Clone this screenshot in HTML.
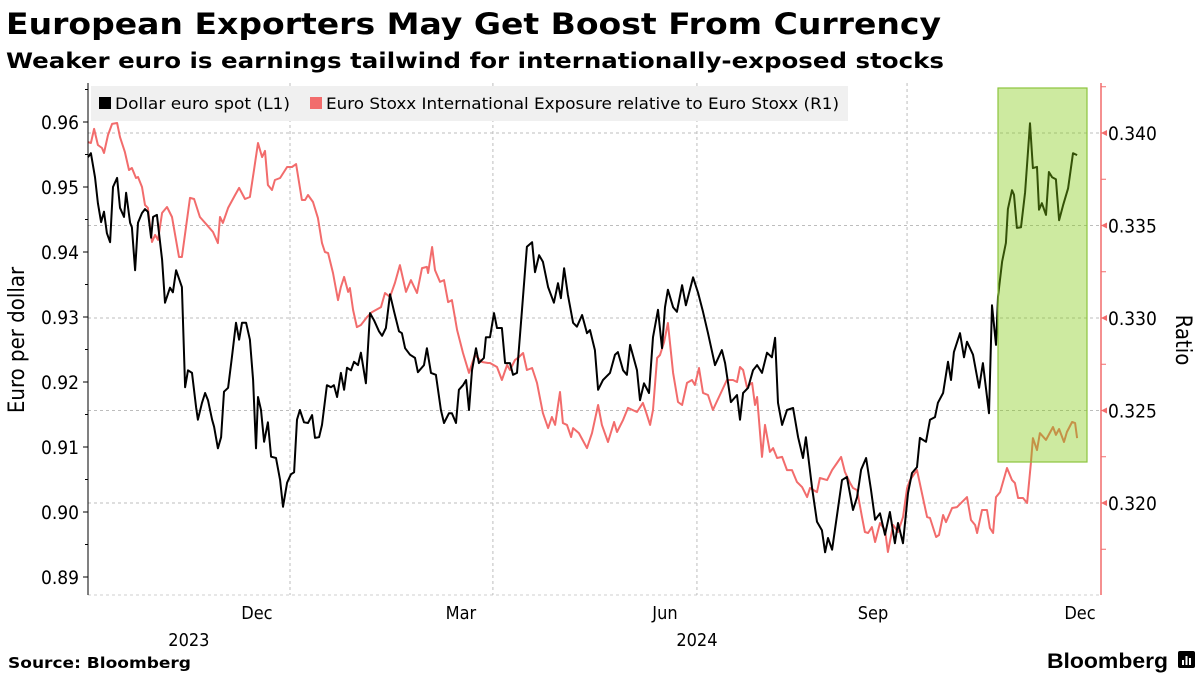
<!DOCTYPE html>
<html><head><meta charset="utf-8">
<style>
html,body{margin:0;padding:0;background:#fff;}
svg{display:block;font-family:"DejaVu Sans Condensed","DejaVu Sans","Liberation Sans",sans-serif;}
.ttl{font-family:"DejaVu Sans","Liberation Sans",sans-serif;}
</style></head>
<body>
<svg id="chart" width="1200" height="675" viewBox="0 0 1200 675">
  <text class="ttl" x="6" y="34" font-size="29" font-weight="bold" fill="#000" textLength="935" lengthAdjust="spacingAndGlyphs">European Exporters May Get Boost From Currency</text>
  <text class="ttl" x="6" y="68" font-size="21" font-weight="bold" fill="#000" textLength="938" lengthAdjust="spacingAndGlyphs">Weaker euro is earnings tailwind for internationally-exposed stocks</text>
  <g id="grid"></g>
  <g id="series"></g>
  <rect x="998" y="88" width="89" height="374" fill="rgba(130,202,17,0.4)" stroke="#8cc43e" stroke-width="1.2"/>
  <g>
    <rect x="91" y="86" width="757" height="35" fill="#f0f0f0"/>
    <rect x="99" y="97" width="12" height="12" fill="#000"/>
    <text x="115" y="109" font-size="16" fill="#000" textLength="175" lengthAdjust="spacingAndGlyphs">Dollar euro spot (L1)</text>
    <rect x="310" y="97" width="12" height="12" fill="#f26c6c"/>
    <text x="326" y="109" font-size="16" fill="#000" textLength="513" lengthAdjust="spacingAndGlyphs">Euro Stoxx International Exposure relative to Euro Stoxx (R1)</text>
  </g>
  <g id="axes"></g>
  <text transform="translate(24,340) rotate(-90)" text-anchor="middle" font-size="22" fill="#000">Euro per dollar</text>
  <text transform="translate(1176,340) rotate(90)" text-anchor="middle" font-size="22" fill="#000">Ratio</text>
  <text class="ttl" x="8" y="668" font-size="15" font-weight="bold" fill="#000" textLength="183" lengthAdjust="spacingAndGlyphs">Source: Bloomberg</text>
  <text x="1047" y="668" font-size="21" font-weight="bold" fill="#000" textLength="121" lengthAdjust="spacingAndGlyphs" font-family="Liberation Sans, sans-serif">Bloomberg</text>
  <g>
    <rect x="1178" y="651" width="17" height="17" rx="2" fill="#000"/>
    <rect x="1182" y="660" width="2" height="5" fill="#fff"/><rect x="1185.5" y="656" width="2" height="9" fill="#fff"/><rect x="1189" y="658" width="2" height="7" fill="#fff"/>
  </g>
</svg>
<script>
// ---- data ----
const eurDays = [0,1.3,3.1,4.4,5.8,7.1,8.4,9.8,11.1,12.9,14.2,16.0,16.9,18.7,19.5,20.9,22.2,24.0,25.3,26.6,28.0,28.9,30.6,32.9,34.2,36.4,37.7,39.1,41.7,43.1,44.4,46.2,48.0,48.8,50.6,52.0,53.3,55.1,56.0,57.7,59.1,60.4,62.2,63.9,65.7,67.1,68.4,70.2,71.9,73.3,74.6,75.5,76.8,78.2,79.9,81.3,83.5,85.3,86.6,88.4,90.1,91.5,92.8,94.1,95.9,97.7,99.5,100.8,102.6,103.9,106.1,107.9,109.2,110.6,112.3,113.7,115.0,116.8,118.1,119.9,121.2,123.4,125.2,127.0,129.2,130.6,132.3,134.1,135.9,138.1,139.4,140.8,143.0,145.2,146.5,149.2,150.5,152.3,154.5,156.7,158.1,160.3,161.6,163.4,164.7,166.5,167.9,169.2,170.5,172.3,173.6,175.8,176.7,178.5,180.3,181.6,183.8,185.2,187.4,188.7,190.5,192.7,194.9,197.2,198.5,200.3,202.0,204.3,206.9,208.7,210.0,211.4,213.1,215.4,217.1,219.4,221.6,222.9,225.1,226.5,228.7,231.8,234.0,235.3,237.6,239.3,240.7,243.8,245.1,246.9,249.1,250.9,253.1,254.9,256.2,257.5,259.8,261.5,263.8,265.5,268.7,270.9,273.1,275.3,278.4,281.5,282.9,285.5,288.2,289.5,290.9,293.1,295.3,297.1,299.3,301.5,303.7,305.1,306.4,308.2,310.4,313.1,315.3,317.5,318.8,321.5,323.7,325.9,327.3,328.6,330.4,332.6,334.8,337.0,339.7,341.5,343.3,345.5,347.7,349.5,351.7,353.9,356.1,358.3,359.7,361.9,364.1,365.9,368.1,369.4,372.1,373.9,376.1,377.4,379.7,381.9,383.2,384.5,387.2,389.0,390.3,393.0,395.7,397.4,400.1,401.4,403.2,404.1,405.9,407.6,408.5,410.3,411.2,412.5,414.3,416.1,418.3,419.6,421.4,422.3,423.6,425.4,426.7,428.1,429.8,431.2,433.0,435.2,437.4,439.2];
const eurValues = [0.9546,0.9552,0.9515,0.9475,0.9446,0.9462,0.9429,0.9415,0.9500,0.9514,0.9468,0.9454,0.9491,0.9445,0.9438,0.9372,0.9445,0.9460,0.9466,0.9462,0.9422,0.9454,0.9457,0.9388,0.9322,0.9345,0.9338,0.9372,0.9346,0.9192,0.9218,0.9214,0.9161,0.9142,0.9168,0.9183,0.9172,0.9142,0.9131,0.9098,0.9115,0.9185,0.9191,0.9238,0.9291,0.9265,0.9291,0.9291,0.9265,0.9203,0.9098,0.9177,0.9157,0.9108,0.9138,0.9085,0.9083,0.9049,0.9008,0.9045,0.9058,0.9061,0.9142,0.9157,0.9138,0.9137,0.9149,0.9114,0.9115,0.9134,0.9195,0.9192,0.9195,0.9177,0.9214,0.9188,0.9222,0.9218,0.9231,0.9226,0.9245,0.9198,0.9306,0.9295,0.9278,0.9271,0.9283,0.9335,0.9309,0.9278,0.9275,0.9252,0.9242,0.9237,0.9215,0.9226,0.9252,0.9214,0.9211,0.9157,0.9137,0.9152,0.9152,0.9137,0.9188,0.9195,0.9203,0.9157,0.9218,0.9252,0.9229,0.9237,0.9269,0.9269,0.9306,0.9283,0.9283,0.9229,0.9229,0.9211,0.9214,0.9311,0.9408,0.9415,0.9369,0.9395,0.9385,0.9346,0.9322,0.9352,0.9329,0.9375,0.9334,0.9291,0.9285,0.9303,0.9275,0.9280,0.9249,0.9188,0.9203,0.9214,0.9242,0.9246,0.9218,0.9211,0.9257,0.9218,0.9172,0.9198,0.9183,0.9269,0.9311,0.9252,0.9315,0.9342,0.9315,0.9308,0.9349,0.9318,0.9361,0.9337,0.9308,0.9275,0.9226,0.9249,0.9229,0.9169,0.9180,0.9142,0.9183,0.9191,0.9218,0.9226,0.9214,0.9245,0.9238,0.9268,0.9168,0.9134,0.9157,0.9160,0.9115,0.9083,0.9115,0.9038,0.8985,0.8972,0.8938,0.8960,0.8942,0.8995,0.9049,0.9054,0.9003,0.9023,0.9065,0.9083,0.9034,0.8988,0.8998,0.8965,0.9000,0.8952,0.8983,0.8952,0.9029,0.9060,0.9069,0.9114,0.9108,0.9142,0.9146,0.9168,0.9183,0.9231,0.9203,0.9246,0.9275,0.9238,0.9262,0.9242,0.9191,0.9229,0.9152,0.9318,0.9257,0.9331,0.9385,0.9414,0.9466,0.9495,0.9488,0.9437,0.9438,0.9492,0.9598,0.9529,0.9531,0.9465,0.9475,0.9457,0.9523,0.9515,0.9512,0.9449,0.9472,0.9498,0.9552,0.9549];
const ratioDays = [0,1.3,2.7,4.4,6.2,7.1,8.9,10.7,12.9,14.2,16.4,18.2,19.5,21.3,22.2,24.0,25.3,26.6,28.4,29.8,31.1,32.9,35.1,37.3,40.4,41.7,45.3,47.1,49.7,52.8,55.5,57.7,58.6,59.9,62.2,65.3,67.1,69.7,71.9,73.7,75.5,77.3,78.6,79.9,81.7,83.0,85.3,88.4,90.6,92.4,95.0,96.4,97.7,99.9,102.1,103.9,105.2,106.6,108.8,111.0,112.3,113.7,115.5,116.3,117.7,119.4,121.2,123.9,126.1,130.1,131.9,134.1,136.3,138.5,141.2,143.4,146.1,148.3,150.5,151.0,152.8,154.1,156.3,158.1,159.9,161.6,163.9,166.5,169.2,171.8,175.0,177.6,178.5,181.6,183.8,186.1,187.4,189.6,190.9,193.2,194.9,197.2,199.4,202.0,204.3,206.0,207.4,209.6,210.9,212.7,214.5,215.4,218.0,221.6,223.8,226.5,228.2,230.9,233.6,234.9,237.6,239.8,243.8,246.4,247.8,249.6,250.9,252.7,254.0,255.8,257.5,259.8,262.0,263.8,266.0,268.2,269.5,271.3,273.1,275.3,277.5,280.6,283.7,286.4,288.2,289.5,290.9,292.6,294.9,296.2,297.1,299.3,300.6,302.8,304.2,306.0,308.2,310.4,312.6,314.8,317.1,319.3,320.6,323.7,325.0,328.2,330.4,332.6,334.4,336.1,338.4,339.7,341.5,343.7,345.0,346.4,348.1,349.5,351.7,353.9,355.2,357.5,359.7,361.9,363.7,365.0,368.1,370.3,372.6,373.9,376.6,377.9,379.7,381.0,383.7,385.9,388.1,390.3,392.1,393.9,394.8,397.0,399.2,400.5,401.9,403.2,405.0,408.1,410.3,411.6,413.0,415.2,417.0,418.7,419.6,421.4,422.7,425.4,428.5,429.8,431.2,433.4,434.7,437.0,438.3,439.2];
const ratioValues = [0.33951,0.33946,0.34022,0.33935,0.33919,0.33892,0.33989,0.34049,0.34054,0.33978,0.33897,0.33800,0.33811,0.33757,0.33762,0.33708,0.33611,0.33595,0.33411,0.33449,0.33422,0.33568,0.33600,0.33546,0.33330,0.33330,0.33649,0.33643,0.33546,0.33503,0.33465,0.33405,0.33546,0.33514,0.33595,0.33665,0.33703,0.33643,0.33654,0.33800,0.33946,0.33870,0.33903,0.33719,0.33692,0.33746,0.33757,0.33816,0.33816,0.33832,0.33638,0.33638,0.33665,0.33627,0.33541,0.33405,0.33357,0.33351,0.33243,0.33097,0.33168,0.33222,0.33141,0.33162,0.33043,0.32951,0.32962,0.33005,0.33032,0.33059,0.33135,0.33114,0.33189,0.33286,0.33141,0.33205,0.33135,0.33270,0.33276,0.33243,0.33384,0.33259,0.33195,0.33205,0.33086,0.33097,0.32935,0.32811,0.32703,0.32800,0.32762,0.32757,0.32757,0.32735,0.32665,0.32746,0.32719,0.32773,0.32784,0.32811,0.32719,0.32730,0.32649,0.32486,0.32405,0.32465,0.32422,0.32600,0.32432,0.32422,0.32357,0.32405,0.32378,0.32297,0.32378,0.32530,0.32422,0.32330,0.32438,0.32384,0.32449,0.32514,0.32492,0.32541,0.32492,0.32422,0.32503,0.32784,0.32800,0.32870,0.32973,0.32703,0.32546,0.32530,0.32649,0.32665,0.32638,0.32730,0.32595,0.32584,0.32503,0.32584,0.32665,0.32665,0.32654,0.32735,0.32719,0.32627,0.32649,0.32530,0.32573,0.32249,0.32422,0.32276,0.32297,0.32243,0.32249,0.32178,0.32178,0.32114,0.32086,0.32032,0.32081,0.32059,0.32135,0.32124,0.32178,0.32216,0.32249,0.32168,0.32108,0.32081,0.32070,0.31924,0.31843,0.31838,0.31870,0.31789,0.31892,0.31854,0.31735,0.31881,0.31843,0.31924,0.32081,0.32124,0.32178,0.32054,0.31924,0.31919,0.31816,0.31827,0.31935,0.31897,0.31973,0.31978,0.32005,0.32032,0.31908,0.31881,0.31838,0.31962,0.31962,0.31865,0.31838,0.32032,0.32059,0.32189,0.32124,0.32108,0.32027,0.32027,0.32000,0.32216,0.32351,0.32286,0.32378,0.32341,0.32411,0.32368,0.32400,0.32330,0.32384,0.32438,0.32432,0.32351];
const leftTicks = [0.96,0.95,0.94,0.93,0.92,0.91,0.90,0.89];
const leftTickLabels = ["0.96","0.95","0.94","0.93","0.92","0.91","0.90","0.89"];
const rightTicks = [0.340,0.335,0.330,0.325,0.320];
const rightTickLabels = ["0.340","0.335","0.330","0.325","0.320"];
const quarterDays = [89.7,179.8,270.4,363.7];
const monthLabels = ["Dec","Mar","Jun","Sep","Dec"];
const monthLabelDays = [75,165.6,256.2,348.6,440.5];
const yearLabels = ["2023","2024"];
const yearLabelDays = [44.8,270.4];

// ---- scales ----
const X0 = 88, PXD = 2.252;
const xS = d => X0 + d * PXD;
const yL = v => 122 + (0.96 - v) * 6500;
const yR = v => 133 + (0.34 - v) * 18500;
const NS = "http://www.w3.org/2000/svg";
function mk(tag, attrs, parent){ const e=document.createElementNS(NS,tag); for(const k in attrs) e.setAttribute(k,attrs[k]); parent.appendChild(e); return e; }

const grid = document.getElementById('grid');
const axes = document.getElementById('axes');
const series = document.getElementById('series');

rightTicks.forEach((t,i)=>{
  const l = mk('line',{x1:88,x2:1100,y1:yR(t),y2:yR(t),stroke:'#bdbdbd','stroke-width':1,'stroke-dasharray':'3,3'},grid);
  
  
});
const bl = mk('line',{x1:88,x2:1100,y1:595,y2:595,stroke:'#cfcfcf','stroke-width':1,'stroke-dasharray':'3,3'},grid);


quarterDays.forEach(d=>{
  const l = mk('line',{x1:xS(d),x2:xS(d),y1:83,y2:595,stroke:'#bdbdbd','stroke-width':1,'stroke-dasharray':'3,3'},grid);
  
  
});

function pathOf(days, vals, ys){ return days.map((d,i)=>(i?'L':'M')+xS(d).toFixed(1)+','+ys(vals[i]).toFixed(1)).join(''); }
const pr = mk('path',{d:pathOf(ratioDays,ratioValues,yR),fill:'none',stroke:'#f26c6c','stroke-width':2,'stroke-linejoin':'round'},series);


const pb = mk('path',{d:pathOf(eurDays,eurValues,yL),fill:'none',stroke:'#000','stroke-width':2,'stroke-linejoin':'round'},series);



const la = mk('line',{x1:88,x2:88,y1:83,y2:595,stroke:'#000','stroke-width':1},axes);


for(let k=0;k<=15;k++){
  const v = 0.965 - k*0.005;
  const major = k%2===1;
  mk('line',{x1:major?83:85,x2:88,y1:yL(v),y2:yL(v),stroke:'#000','stroke-width':1},axes);
}
leftTicks.forEach((t,i)=>{
  const tx = mk('text',{x:79,y:yL(t)+7,'text-anchor':'end','font-size':19,fill:'#000'},axes);
  tx.textContent = leftTickLabels[i];
  
  
});
const ra = mk('line',{x1:1101,x2:1101,y1:83,y2:595,stroke:'#f26c6c','stroke-width':1.5},axes);


for(let k=0;k<=10;k++){
  const v = 0.3425 - k*0.0025;
  mk('line',{x1:1101,x2:1106,y1:yR(v),y2:yR(v),stroke:'#f26c6c','stroke-width':1},axes);
}
rightTicks.forEach((t,i)=>{
  mk('path',{d:`M1101,${yR(t)}L1107,${yR(t)-3}L1107,${yR(t)+3}Z`,fill:'#f26c6c'},axes);
  const tx = mk('text',{x:1108,y:yR(t)+7,'font-size':19,fill:'#000'},axes);
  tx.textContent = rightTickLabels[i];
  
  
});
monthLabels.forEach((m,i)=>{
  const tx = mk('text',{x:xS(monthLabelDays[i]),y:619,'text-anchor':'middle','font-size':18,fill:'#000'},axes);
  tx.textContent = m;
  
  
});
yearLabels.forEach((m,i)=>{
  const tx = mk('text',{x:xS(yearLabelDays[i]),y:646,'text-anchor':'middle','font-size':18,fill:'#000'},axes);
  tx.textContent = m;
  
  
});
</script>
</body></html>
